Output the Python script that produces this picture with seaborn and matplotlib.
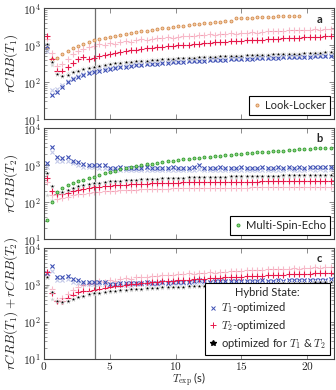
import numpy as np
import seaborn as sns
import matplotlib.pyplot as plt
from matplotlib.lines import Line2D
from matplotlib.ticker import FuncFormatter, LogLocator, NullFormatter

# experiment time grid (s)
t_exp = [0.2, 0.6, 1.0, 1.4, 1.8, 2.2, 2.6, 3.0, 3.4, 3.8,
         4.2, 4.6, 5.0, 5.4, 5.8, 6.2, 6.6, 7.0, 7.4, 7.8,
         8.2, 8.6, 9.0, 9.4, 9.8, 10.2, 10.6, 11.0, 11.4, 11.8,
         12.2, 12.6, 13.0, 13.4, 13.8, 14.2, 14.6, 15.0, 15.4, 15.8,
         16.2, 16.6, 17.0, 17.4, 17.8, 18.2, 18.6, 19.0, 19.4, 19.8,
         20.2, 20.6, 21.0, 21.4, 21.8]

# --- rCRB(T1) ---
ll_t1 = [900, 430, 460, 580, 700, 830, 960, 1090, 1220, 1350,
         1470, 1590, 1700, 1810, 1920, 2030, 2140, 2250, 2370, 2490,
         2610, 2740, 2870, 3000, 3130, 3260, 3390, 3520, 3650, 3780,
         3910, 4040, 4170, 4300, 4430, 4560, 5300, 5400, 5500, 5580,
         5660, 5740, 5820, 5900, 5980, 6060, 6140, 6220, 6300]
t1opt_t1 = [950, 45, 55, 75, 98, 118, 138, 157, 175, 192,
            206, 219, 231, 243, 254, 264, 274, 283, 292, 301,
            310, 318, 326, 334, 341, 348, 355, 362, 369, 376,
            382, 388, 394, 400, 406, 412, 418, 424, 430, 435,
            441, 446, 452, 457, 462, 468, 473, 478, 483, 488,
            493, 498, 503, 508, 513]
t2opt_t1 = [1750, 420, 195, 200, 260, 330, 410, 470, 430, 460,
            520, 555, 590, 630, 655, 700, 735, 760, 795, 820,
            850, 880, 905, 935, 955, 985, 1015, 1040, 1075, 1100,
            1125, 1150, 1185, 1205, 1235, 1265, 1285, 1320, 1345, 1370,
            1395, 1420, 1450, 1470, 1500, 1525, 1550, 1575, 1600, 1625,
            1650, 1680, 1705, 1730, 1760]
both_t1 = [1050, 360, 165, 150, 160, 185, 205, 225, 245, 265,
           280, 295, 310, 322, 335, 345, 355, 365, 375, 385,
           395, 405, 413, 422, 430, 438, 446, 454, 462, 470,
           477, 484, 491, 498, 505, 512, 518, 525, 531, 538,
           544, 550, 556, 562, 568, 574, 580, 586, 592, 598,
           608, 617, 626, 636, 645]
t1opt_t1_alt = [700, 60, 65, 85, 108, 130, 150, 170, 190, 207,
                222, 236, 249, 262, 274, 285, 296, 306, 316, 326,
                335, 344, 353, 362, 370, 378, 386, 393, 400, 408,
                415, 422, 428, 435, 441, 448, 454, 460, 466, 472,
                478, 484, 490, 496, 502, 507, 513, 518, 524, 530,
                535, 540, 546, 551, 556]
t2opt_t1_alt = [1500, 600, 280, 310, 420, 560, 700, 800, 900, 960,
                1050, 1000, 1150, 1100, 1250, 1300, 1250, 1400, 1450, 1400,
                1500, 1550, 1600, 1650, 1600, 1700, 1750, 1800, 1750, 1850,
                1900, 1950, 1900, 2000, 2050, 2100, 2050, 2150, 2200, 2250,
                2200, 2300, 2350, 2400, 2350, 2450, 2500, 2550, 2500, 2600,
                2650, 2700, 2650, 2750, 2800]
both_t1_alt = [800, 300, 175, 160, 172, 195, 215, 236, 256, 276,
               292, 307, 322, 335, 348, 358, 369, 379, 389, 400,
               410, 420, 429, 438, 447, 455, 464, 472, 480, 488,
               496, 503, 510, 518, 525, 532, 539, 546, 552, 559,
               566, 572, 578, 584, 591, 597, 603, 609, 615, 622,
               628, 635, 642, 650, 658]

# --- rCRB(T2) ---
mse_t2 = [33, 100, 185, 240, 285, 325, 365, 405, 445, 485,
          540, 595, 650, 705, 760, 815, 870, 925, 980, 1035,
          1090, 1145, 1200, 1255, 1310, 1365, 1420, 1475, 1530, 1585,
          1640, 1695, 1750, 1805, 1860, 1915, 1970, 2025, 2080, 2135,
          2190, 2245, 2300, 2355, 2410, 2465, 2520, 2575, 2630, 2685,
          2740, 2795, 2850, 2905, 2960]
t1opt_t2 = [1150, 3100, 1600, 1550, 1650, 1300, 1200, 1050, 1000, 1000,
            1020, 980, 850, 830, 860, 840, 820, 850, 830, 860,
            840, 830, 850, 820, 860, 840, 830, 850, 870, 1000,
            850, 830, 840, 860, 830, 850, 840, 860, 830, 850,
            840, 870, 850, 830, 860, 840, 900, 850, 870, 840,
            880, 860, 890, 870, 900]
t2opt_t2 = [450, 200, 160, 165, 180, 200, 215, 228, 240, 250,
            260, 268, 276, 283, 290, 296, 302, 307, 312, 316,
            320, 324, 327, 330, 333, 336, 338, 340, 342, 344,
            346, 348, 350, 351, 352, 353, 354, 355, 356, 357,
            358, 359, 360, 361, 362, 363, 364, 365, 366, 367,
            368, 369, 370, 371, 372]
both_t2 = [600, 270, 190, 185, 205, 240, 265, 285, 305, 320,
           335, 348, 360, 370, 380, 390, 398, 405, 412, 418,
           424, 430, 435, 440, 445, 450, 455, 460, 464, 468,
           472, 476, 480, 484, 488, 492, 495, 498, 501, 504,
           507, 510, 513, 516, 519, 522, 525, 528, 531, 534,
           537, 540, 543, 546, 550]
t1opt_t2_alt = [900, 2300, 1300, 1250, 1300, 1100, 1000, 900, 870, 860,
                850, 820, 740, 720, 740, 730, 715, 735, 720, 745,
                730, 720, 740, 715, 745, 730, 720, 740, 755, 760,
                740, 725, 730, 750, 725, 740, 730, 750, 725, 740,
                730, 755, 740, 725, 750, 730, 760, 740, 755, 730,
                765, 750, 770, 755, 780]
t2opt_t2_alt = [350, 150, 120, 125, 135, 150, 160, 168, 175, 182,
                188, 194, 199, 203, 207, 211, 214, 217, 220, 222,
                224, 226, 228, 230, 232, 233, 235, 236, 237, 238,
                239, 240, 241, 242, 243, 244, 245, 246, 246, 247,
                248, 248, 249, 250, 250, 251, 251, 252, 252, 253,
                253, 254, 254, 255, 255]
both_t2_alt = [150, 115, 160, 170, 190, 220, 245, 265, 282, 296,
               310, 322, 333, 342, 351, 360, 367, 374, 380, 386,
               391, 397, 401, 406, 410, 415, 419, 424, 428, 432,
               435, 439, 442, 446, 450, 453, 456, 459, 462, 465,
               468, 470, 473, 476, 479, 481, 484, 487, 490, 492,
               495, 498, 501, 503, 507]

t_line = 3.85  # vertical marker

sns.set_theme(style="ticks")
plt.rcParams['font.family'] = ['Lato', 'DejaVu Sans']
plt.rcParams['mathtext.fontset'] = 'cm'

c_t1 = '#3f51b5'
c_t2 = '#e6194b'
c_both = 'black'
c_ll = '#d48a4e'
c_mse = '#2e9a2e'


def dots(ax, y, marker, color, size, alpha=1.0, lw=0.8, **kw):
    sns.scatterplot(x=t_exp[:len(y)], y=y, marker=marker, color=color, s=size,
                    alpha=alpha, linewidth=lw, ax=ax, legend=False, **kw)


def hybrid(ax, t1, t2, both, t1a, t2a, botha):
    dots(ax, t1a, 'x', c_t1, 9, alpha=0.3)
    dots(ax, t2a, '+', c_t2, 15, alpha=0.3)
    dots(ax, botha, '*', c_both, 12, alpha=0.2, lw=0.4)
    dots(ax, t1, 'x', c_t1, 9)
    dots(ax, t2, '+', c_t2, 15)
    dots(ax, both, '*', c_both, 16, lw=0.4)


fig, axes = plt.subplots(3, 1, figsize=(3.36, 3.9), dpi=100, sharex=True)
fig.subplots_adjust(left=0.131, right=0.994, top=0.979, bottom=0.08, hspace=0.08)
ax_a, ax_b, ax_c = axes

# panel a
dots(ax_a, ll_t1, 'o', '#f2cfa6', 4.5, lw=0.6, edgecolor=c_ll)
hybrid(ax_a, t1opt_t1, t2opt_t1, both_t1, t1opt_t1_alt, t2opt_t1_alt, both_t1_alt)

# panel b
hybrid(ax_b, t1opt_t2, t2opt_t2, both_t2, t1opt_t2_alt, t2opt_t2_alt, both_t2_alt)
dots(ax_b, mse_t2, 'o', '#8fd47f', 4.5, lw=0.6, edgecolor=c_mse)

# panel c: sum of both
sum_ = lambda a, b: list(np.add(a, b))
hybrid(ax_c, sum_(t1opt_t1, t1opt_t2), sum_(t2opt_t1, t2opt_t2), sum_(both_t1, both_t2),
       sum_(t1opt_t1_alt, t1opt_t2_alt), sum_(t2opt_t1_alt, t2opt_t2_alt),
       sum_(both_t1_alt, both_t2_alt))

ylabels = [r'$rCRB(T_1)$', r'$rCRB(T_2)$', r'$rCRB(T_1) + rCRB(T_2)$']
for ax, lab, letter in zip(axes, ylabels, 'abc'):
    ax.set_yscale('log')
    ax.set_ylim(10, 1e4)
    ax.set_xlim(0, 22.05)
    ax.axvline(t_line, color='#6e6e6e', lw=0.9, zorder=0)
    ax.yaxis.set_major_locator(LogLocator(base=10, numticks=10))
    ax.yaxis.set_minor_locator(LogLocator(base=10, subs=np.arange(2, 10), numticks=10))
    ax.yaxis.set_major_formatter(FuncFormatter(lambda v, p: r'$10^{%d}$' % round(np.log10(v))))
    ax.yaxis.set_minor_formatter(NullFormatter())
    ax.set_xticks([0, 5, 10, 15, 20])
    ax.xaxis.set_major_formatter(FuncFormatter(lambda v, p: r'$%g$' % v))
    ax.tick_params(which='both', direction='in', top=True, right=True,
                   labelsize=8.5, color='#777777', pad=2)
    ax.tick_params(axis='x', pad=1, labelsize=8.2)
    ax.tick_params(which='major', length=3.5, width=0.6)
    ax.tick_params(which='minor', length=2, width=0.5)
    for s in ax.spines.values():
        s.set_color('#444444')
        s.set_linewidth(0.8)
    ax.set_ylabel(lab, fontsize=9.5, labelpad=2)
    ax.set_xlabel('')
    ax.text(0.95, 0.87, letter, transform=ax.transAxes, fontsize=8,
            fontweight='bold', ha='center')

ax_c.set_xlabel(r'$T_{\rm exp}$ (s)', fontsize=8)
ax_c.xaxis.set_label_coords(0.5, -0.108)
fig.align_ylabels(axes)

leg_kw = dict(loc='lower right', fontsize=8, fancybox=False, framealpha=1,
              edgecolor='black', handlelength=0.7, handletextpad=0.4,
              borderaxespad=0.35, borderpad=0.35)

la = ax_a.legend(handles=[Line2D([], [], ls='none', marker='o', ms=2.2, mfc='#f2cfa6',
                                 mec=c_ll, mew=0.6)], labels=['Look-Locker'], **leg_kw)
lb = ax_b.legend(handles=[Line2D([], [], ls='none', marker='o', ms=2.2, mfc='#8fd47f',
                                 mec=c_mse, mew=0.6)], labels=['Multi-Spin-Echo'], **leg_kw)
lc = ax_c.legend(handles=[Line2D([], [], ls='none', marker='x', ms=3, color=c_t1, mew=0.7),
                          Line2D([], [], ls='none', marker='+', ms=4, color=c_t2, mew=0.7),
                          Line2D([], [], ls='none', marker='*', ms=4, color=c_both)],
                 labels=[r'$T_1$-optimized', r'$T_2$-optimized', r'optimized for $T_1$ & $T_2$'],
                 title='Hybrid State:', title_fontsize=8, labelspacing=0.25, **leg_kw)
for lg in (la, lb, lc):
    lg.get_frame().set_linewidth(0.8)

fig.savefig('out.png', dpi=100)
